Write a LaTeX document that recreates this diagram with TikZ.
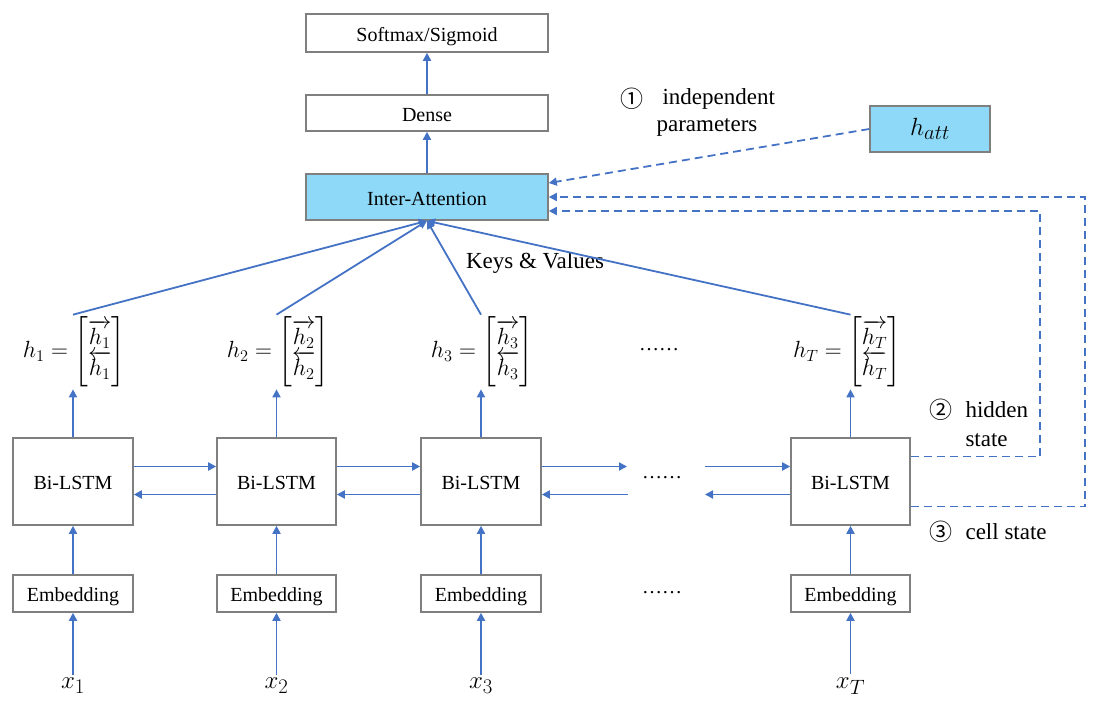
\documentclass[tikz,border=0pt]{standalone}
\usepackage{amsmath}
\usepackage{graphicx}
\usepackage{fontspec}
\setmainfont{Liberation Serif}
\newfontfamily\cjk{Noto Sans CJK SC}
\usetikzlibrary{arrows.meta,calc}
\definecolor{lblue}{HTML}{4472C4}
\definecolor{bgray}{HTML}{7F7F7F}
\definecolor{cyanfill}{RGB}{142,217,248}
\newcommand{\hvec}[1]{\scalebox{1.13}{$h_{#1}=\begin{bmatrix}\overrightarrow{h_{#1}}\\[-2pt]\overleftarrow{h_{#1}}\end{bmatrix}$}}
\begin{document}
\begin{tikzpicture}[x=1pt,y=-1pt,
  box/.style={draw=bgray,line width=1.6pt,inner sep=0pt,text height=19pt,text depth=3pt,font=\fontsize{20}{24}\selectfont},
  arr/.style={draw=lblue,line width=1.8pt,-{Triangle[length=8pt,width=8pt]}},
  dasharr/.style={draw=lblue,line width=1.8pt,dash pattern=on 8pt off 5pt,-{Triangle[length=8pt,width=8pt]}},
  ann/.style={font=\fontsize{23}{28}\selectfont},
  circ/.style={font=\cjk\fontsize{23}{26}\selectfont},
  eq/.style={font=\fontsize{20.74}{25}\selectfont,inner sep=2pt},
  xlab/.style={font=\fontsize{24.88}{30}\selectfont},
  dotsnode/.style={font=\fontsize{20}{24}\selectfont}
]
\useasboundingbox (0,0) rectangle (1112,710);

% top stack
\node[box,minimum width=242,minimum height=38] (soft) at (427,33) {Softmax/Sigmoid};
\node[box,minimum width=242,minimum height=36] (dense) at (427,113) {Dense};
\node[box,fill=cyanfill,minimum width=242,minimum height=46] (att) at (427,197) {Inter-Attention};
\node[draw=bgray,line width=1.6pt,inner sep=0pt,fill=cyanfill,minimum width=120,minimum height=46,font=\fontsize{24.88}{28}\selectfont] (hatt) at (930,129) {$h_{att}$};

% Bi-LSTM row
\node[box,minimum width=120,minimum height=87] (b1) at (73,481.5) {Bi-LSTM};
\node[box,minimum width=119,minimum height=87] (b2) at (276.5,481.5) {Bi-LSTM};
\node[box,minimum width=120,minimum height=87] (b3) at (481,481.5) {Bi-LSTM};
\node[box,minimum width=119,minimum height=87] (b4) at (850.5,481.5) {Bi-LSTM};

% Embedding row
\node[box,minimum width=120,minimum height=37] (e1) at (73,593.5) {Embedding};
\node[box,minimum width=119,minimum height=37] (e2) at (276.5,593.5) {Embedding};
\node[box,minimum width=120,minimum height=37] (e3) at (481,593.5) {Embedding};
\node[box,minimum width=119,minimum height=37] (e4) at (850.5,593.5) {Embedding};

% inputs
\node[xlab] (x1) at (73,686) {$x_1$};
\node[xlab] (x2) at (276.5,686) {$x_2$};
\node[xlab] (x3) at (481,686) {$x_3$};
\node[xlab] (x4) at (850.5,686) {$x_T$};

% hidden vectors
\node[eq] (h1) at (74,352) {\hvec{1}};
\node[eq] (h2) at (278,352) {\hvec{2}};
\node[eq] (h3) at (482,352) {\hvec{3}};
\node[eq] (h4) at (847,352) {\hvec{T}};

% dots
\node[dotsnode] (dt1) at (659,350) {\ldots\ldots};
\node[dotsnode] (dt2) at (662,478) {\ldots\ldots};
\node[dotsnode] (dt3) at (662,593) {\ldots\ldots};

% annotations
\node[ann] (kv) at (535,263) {Keys \& Values};
\node[circ] (c1) at (632,99) {①};
\node[ann,anchor=west] (ind) at (659,99) {independent};
\node[ann,anchor=west] (par) at (653,127) {parameters};
\node[circ] (c2) at (941,410) {②};
\node[ann,anchor=west] (hid) at (962,410) {hidden};
\node[ann,anchor=west] (sta) at (962,440) {state};
\node[circ] (c3) at (941,532) {③};
\node[ann,anchor=west] (cel) at (962,532) {cell state};

% vertical arrows
\foreach \i in {1,2,3,4}{
  \draw[arr] (x\i) -- (e\i);
  \draw[arr] (e\i) -- (b\i);
  \draw[arr] (b\i) -- (b\i |- h\i.south);
  \draw[arr] (b\i |- h\i.north) -- (att.south);
}
\draw[arr] (att) -- (dense);
\draw[arr] (dense) -- (soft);

% horizontal arrows
\draw[arr] ($(b1.east)+(0,-15)$) -- ($(b2.west)+(0,-15)$);
\draw[arr] ($(b2.west)+(0,13)$) -- ($(b1.east)+(0,13)$);
\draw[arr] ($(b2.east)+(0,-15)$) -- ($(b3.west)+(0,-15)$);
\draw[arr] ($(b3.west)+(0,13)$) -- ($(b2.east)+(0,13)$);
\coordinate (d1) at (627,466.5);
\coordinate (d1b) at (628,494.5);
\coordinate (d2) at (705,466.5);
\coordinate (d2b) at (705,494.5);
\draw[arr] ($(b3.east)+(0,-15)$) -- (d1);
\draw[arr] (d1b) -- ($(b3.east)+(0,13)$);
\draw[arr] (d2) -- ($(b4.west)+(0,-15)$);
\draw[arr] ($(b4.west)+(0,13)$) -- (d2b);

% dashed feedback
\coordinate (hc) at (1040,211);
\coordinate (cc) at (1085,197);
\draw[dasharr] ($(b4.east)+(0,-25)$) -| (hc) -- ($(att.east)+(0,14)$);
\draw[dasharr] ($(b4.east)+(0,25)$) -| (cc) -- (att.east);
\draw[dasharr] (hatt.west) -- ($(att.east)+(0,-14)$);
\end{tikzpicture}
\end{document}
